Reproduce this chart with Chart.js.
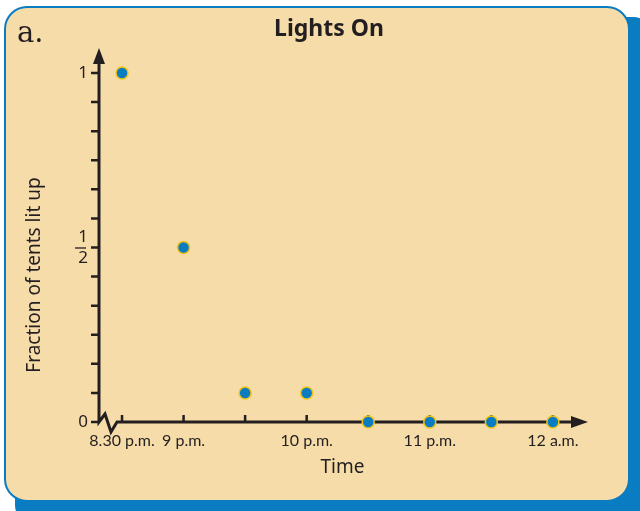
<!DOCTYPE html>
<html lang="en">
<head>
    <meta charset="UTF-8">
    <title>Lights On</title>
    <script src="https://cdn.jsdelivr.net/npm/chart.js"></script>
    <style>
        html, body { margin: 0; padding: 0; background: #ffffff; }
        canvas { display: block; }
    </style>
</head>
<body>
    <canvas id="lightsChart" width="640" height="511"></canvas>
    <script>
        // Data (time in hours, 8.5 = 8.30 p.m.)
        const times = [8.5, 9, 9.5, 10, 10.5, 11, 11.5, 12];
        const timeLabels = ['8.30 p.m.', '9 p.m.', '', '10 p.m.', '', '11 p.m.', '', '12 a.m.'];
        const fractionLit = [1, 1 / 2, 1 / 12, 1 / 12, 0, 0, 0, 0];
        const yTicks = [0, 1, 2, 3, 4, 5, 6, 7, 8, 9, 10, 11, 12].map(n => n / 12);
        const yTickLabels = ['0', '', '', '', '', '', ['1', '2'], '', '', '', '', '', '1'];

        const INK = '#231f20';
        const BLUE = '#0a7dc2';
        const CARD = '#f6dca8';
        const FONT = "'Noto Sans', 'Open Sans', sans-serif";
        const TICK_FONT = "Lato, 'Noto Sans', sans-serif";

        function roundRect(ctx, x, y, w, h, r) {
            ctx.beginPath();
            ctx.moveTo(x + r, y);
            ctx.arcTo(x + w, y, x + w, y + h, r);
            ctx.arcTo(x + w, y + h, x, y + h, r);
            ctx.arcTo(x, y + h, x, y, r);
            ctx.arcTo(x, y, x + w, y, r);
            ctx.closePath();
        }

        // card behind the chart, with its blue shadow, plus the headings
        const cardPlugin = {
            id: 'card',
            beforeDraw(chart) {
                const ctx = chart.ctx;
                ctx.save();
                ctx.fillStyle = BLUE;
                roundRect(ctx, 15, 17, 640, 510, 22);
                ctx.fill();
                roundRect(ctx, 5, 7, 624, 494, 22);
                ctx.fillStyle = CARD;
                ctx.fill();
                ctx.lineWidth = 2;
                ctx.strokeStyle = BLUE;
                ctx.stroke();

                ctx.fillStyle = INK;
                ctx.textBaseline = 'alphabetic';
                ctx.font = "29px 'DejaVu Serif', 'Liberation Serif', serif";
                ctx.textAlign = 'left';
                ctx.fillText('a.', 17, 42);
                ctx.font = 'bold 23px ' + FONT;
                ctx.textAlign = 'center';
                ctx.fillText('Lights On', 329, 36);

                // y axis title
                ctx.translate(35, 275);
                ctx.rotate(-Math.PI / 2);
                ctx.font = '19px ' + FONT;
                ctx.textBaseline = 'middle';
                ctx.fillText('Fraction of tents lit up', 0, 0);
                ctx.restore();
            }
        };

        // axes with arrows, the break mark and the tick marks
        const axesPlugin = {
            id: 'axes',
            beforeDatasetsDraw(chart) {
                const ctx = chart.ctx;
                const xs = chart.scales.x;
                const ys = chart.scales.y;
                const left = chart.chartArea.left;
                const y0 = ys.getPixelForValue(0);
                const top = chart.chartArea.top;
                const right = chart.chartArea.right;
                ctx.save();
                ctx.strokeStyle = INK;
                ctx.fillStyle = INK;
                ctx.lineWidth = 3;
                ctx.lineJoin = 'miter';

                ctx.beginPath();
                ctx.moveTo(left, top + 12);
                ctx.lineTo(left, y0);
                ctx.lineTo(left + 6, y0 - 8);
                ctx.lineTo(left + 12, y0 + 10);
                ctx.lineTo(left + 18, y0);
                ctx.lineTo(right - 14, y0);
                ctx.stroke();

                ctx.beginPath();
                ctx.moveTo(left, top);
                ctx.lineTo(left - 6, top + 16);
                ctx.lineTo(left + 6, top + 16);
                ctx.closePath();
                ctx.fill();

                ctx.beginPath();
                ctx.moveTo(right + 2, y0);
                ctx.lineTo(right - 15, y0 - 6);
                ctx.lineTo(right - 15, y0 + 6);
                ctx.closePath();
                ctx.fill();

                ctx.lineWidth = 2.5;
                ctx.beginPath();
                yTicks.forEach(v => {
                    const py = ys.getPixelForValue(v);
                    ctx.moveTo(left - 8, py);
                    ctx.lineTo(left, py);
                });
                times.forEach(t => {
                    const px = xs.getPixelForValue(t);
                    ctx.moveTo(px, y0);
                    ctx.lineTo(px, y0 - 7);
                });
                ctx.stroke();

                // fraction bar for the 1/2 label
                const py = ys.getPixelForValue(0.5);
                ctx.lineWidth = 1.3;
                ctx.beginPath();
                ctx.moveTo(left - 24, py + 0.5);
                ctx.lineTo(left - 13, py + 0.5);
                ctx.stroke();
                ctx.restore();
            }
        };

        const ctx = document.getElementById('lightsChart').getContext('2d');
        const chart = new Chart(ctx, {
            type: 'scatter',
            data: {
                datasets: [{
                    label: 'Fraction of tents lit up',
                    data: times.map((t, i) => ({ x: t, y: fractionLit[i] })),
                    pointRadius: 6,
                    pointHoverRadius: 6,
                    backgroundColor: BLUE,
                    borderColor: '#f2c318',
                    borderWidth: 1.5,
                    clip: false
                }]
            },
            options: {
                responsive: false,
                animation: false,
                devicePixelRatio: 1,
                layout: { padding: { top: 48, left: 22, right: 54, bottom: 0 } },
                plugins: {
                    legend: { display: false },
                    tooltip: { enabled: false }
                },
                scales: {
                    x: {
                        type: 'linear',
                        min: 8.313,
                        max: 12.269,
                        grid: { display: false, drawTicks: false },
                        border: { display: false },
                        afterBuildTicks: scale => {
                            scale.ticks = times.map(t => ({ value: t }));
                        },
                        afterFit: scale => { scale.height = 89; },
                        ticks: {
                            autoSkip: false,
                            maxRotation: 0,
                            padding: 9,
                            color: INK,
                            font: { family: TICK_FONT, size: 16 },
                            callback: (value, i) => timeLabels[i]
                        },
                        title: {
                            display: true,
                            text: 'Time',
                            color: INK,
                            font: { family: FONT, size: 19 },
                            padding: { top: 0, bottom: 32 }
                        }
                    },
                    y: {
                        min: 0,
                        max: 1.0716,
                        grid: { display: false, drawTicks: false },
                        border: { display: false },
                        afterBuildTicks: scale => {
                            scale.ticks = yTicks.map(v => ({ value: v }));
                        },
                        afterFit: scale => { scale.width = 77; },
                        ticks: {
                            autoSkip: false,
                            padding: 11,
                            color: INK,
                            font: { family: FONT, size: 17 },
                            callback: (value, i) => yTickLabels[i]
                        }
                    }
                }
            },
            plugins: [cardPlugin, axesPlugin]
        });
    </script>
</body>
</html>
